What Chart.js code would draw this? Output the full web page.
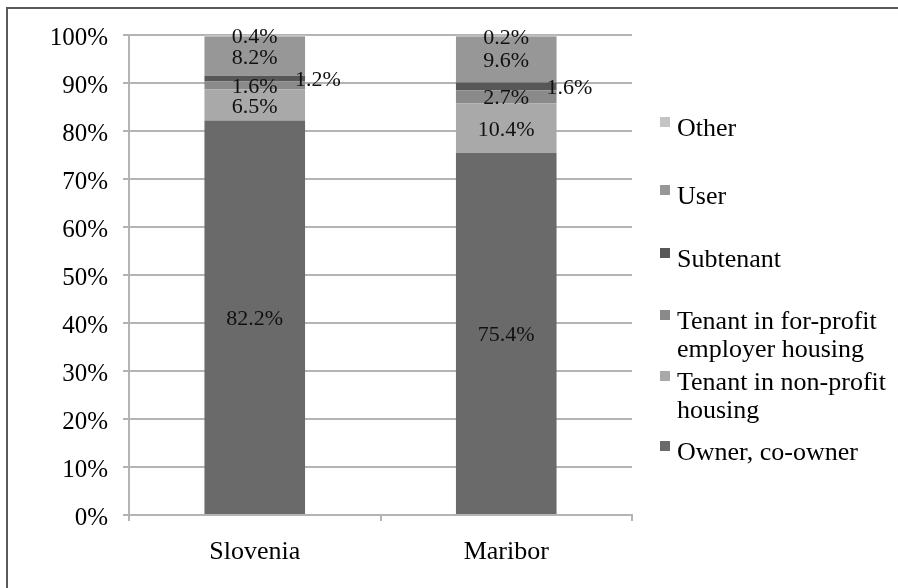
<!DOCTYPE html>
<html>
<head>
<meta charset="utf-8">
<script src="https://cdn.jsdelivr.net/npm/chart.js@4/dist/chart.umd.min.js"></script>
<style>
    html, body {
        margin: 0;
        padding: 0;
        background: #ffffff;
    }

    #wrap {
        position: relative;
        width: 898px;
        height: 588px;
        overflow: hidden;
        font-family: "Liberation Serif", "DejaVu Serif", serif;
    }

    #frame {
        position: absolute;
        left: 6px;
        top: 7px;
        width: 1000px;
        height: 1000px;
        border-left: 2px solid #5a5a5a;
        border-top: 2px solid #5a5a5a;
    }

    #chart-canvas {
        position: absolute;
        left: 0;
        top: 0;
    }

    .legend-item {
        position: absolute;
        left: 677px;
        width: 218px;
        font-size: 26px;
        line-height: 28px;
        color: #000;
    }

    .legend-item span {
        position: absolute;
        left: -17px;
        top: 3px;
        width: 10px;
        height: 10px;
    }
</style>
</head>
<body>
<div id="wrap">
    <div id="frame"></div>
    <canvas id="chart-canvas" width="898" height="588"></canvas>
    <div id="legend-container"></div>
</div>

<script>
    // udziały form zamieszkania (%), od dołu słupka
    const categories = ['Slovenia', 'Maribor'];
    const owner = [82.2, 75.4];
    const nonProfit = [6.5, 10.4];
    const forProfit = [1.6, 2.7];
    const subtenant = [1.2, 1.6];
    const user = [8.2, 9.6];
    const other = [0.4, 0.2];

    const seriesNames = ['Owner, co-owner', 'Tenant in non-profit housing',
        'Tenant in for-profit employer housing', 'Subtenant', 'User', 'Other'];
    const seriesColors = ['#6a6a6a', '#a9a9a9', '#8a8a8a', '#575757', '#979797', '#c4c4c4'];
    const yTicks = [0, 10, 20, 30, 40, 50, 60, 70, 80, 90, 100];

    const serif = '"Liberation Serif", "DejaVu Serif", serif';
    const gridColor = '#b4b4b4';

    /**
     * Etykiety wartości na segmentach słupków
     * podnajemca (Subtenant) ma etykietę z prawej strony słupka
     * **/
    const valueLabels = {
        id: 'valueLabels',
        afterDatasetsDraw(chart) {
            let ctx = chart.ctx;
            ctx.save();
            ctx.font = '22px ' + serif;
            ctx.fillStyle = '#111';
            ctx.textBaseline = 'middle';

            chart.data.datasets.forEach(function (ds, i) {
                let meta = chart.getDatasetMeta(i);
                meta.data.forEach(function (bar, j) {
                    let text = ds.data[j].toFixed(1) + '%';
                    let yMid = (bar.y + bar.base) / 2 + 2;
                    if (ds.label === 'Subtenant') {
                        ctx.textAlign = 'left';
                        ctx.fillText(text, bar.x + bar.width / 2 - 10, yMid);
                    } else {
                        ctx.textAlign = 'center';
                        ctx.fillText(text, bar.x, yMid);
                    }
                });
            });
            ctx.restore();
        }
    };

    const seriesData = [owner, nonProfit, forProfit, subtenant, user, other];

    var datasets = seriesData.map(function (values, i) {
        return {
            label: seriesNames[i],
            data: values,
            backgroundColor: seriesColors[i],
            borderWidth: 0,
            categoryPercentage: 1.0,
            barPercentage: 0.4
        };
    });

    var chart = new Chart(document.getElementById('chart-canvas'), {
        type: 'bar',
        data: {
            labels: categories,
            datasets: datasets
        },
        options: {
            responsive: false,
            animation: false,
            layout: {
                padding: {left: 0, top: 35, right: 266, bottom: 0}
            },
            plugins: {
                legend: {display: false},
                tooltip: {enabled: false}
            },
            scales: {
                x: {
                    stacked: true,
                    grid: {
                        offset: true,
                        drawOnChartArea: false,
                        color: gridColor,
                        lineWidth: 2,
                        tickLength: 6
                    },
                    border: {color: gridColor, width: 2},
                    ticks: {
                        color: '#000',
                        font: {family: serif, size: 26},
                        padding: 16
                    },
                    afterFit: function (scale) {
                        scale.height = 73;
                    }
                },
                y: {
                    stacked: true,
                    min: 0,
                    max: 100,
                    afterBuildTicks: function (scale) {
                        scale.ticks = yTicks.map(function (v) {
                            return {value: v};
                        });
                    },
                    grid: {
                        color: gridColor,
                        lineWidth: 2,
                        tickLength: 6
                    },
                    border: {color: gridColor, width: 2},
                    ticks: {
                        color: '#000',
                        font: {family: serif, size: 25},
                        padding: 15,
                        labelOffset: 3,
                        callback: function (v) {
                            return v + '%';
                        }
                    },
                    afterFit: function (scale) {
                        scale.width = 129;
                    }
                }
            }
        },
        plugins: [valueLabels]
    });

    /**
     * Legenda po prawej stronie, kolejność odwrócona (od góry: Other)
     * **/
    function buildLegend(chart) {
        let container = document.getElementById('legend-container');
        let tops = [114, 182, 245, 307, 368, 438];
        let items = chart.data.datasets.slice().reverse();

        items.forEach(function (ds, k) {
            var div = document.createElement('div');
            div.classList.add('legend-item');
            div.style.top = tops[k] + 'px';

            var box = document.createElement('span');
            box.style.background = ds.backgroundColor;
            div.appendChild(box);
            div.appendChild(document.createTextNode(ds.label));

            container.appendChild(div);
        });
    }

    buildLegend(chart);
</script>
</body>
</html>
